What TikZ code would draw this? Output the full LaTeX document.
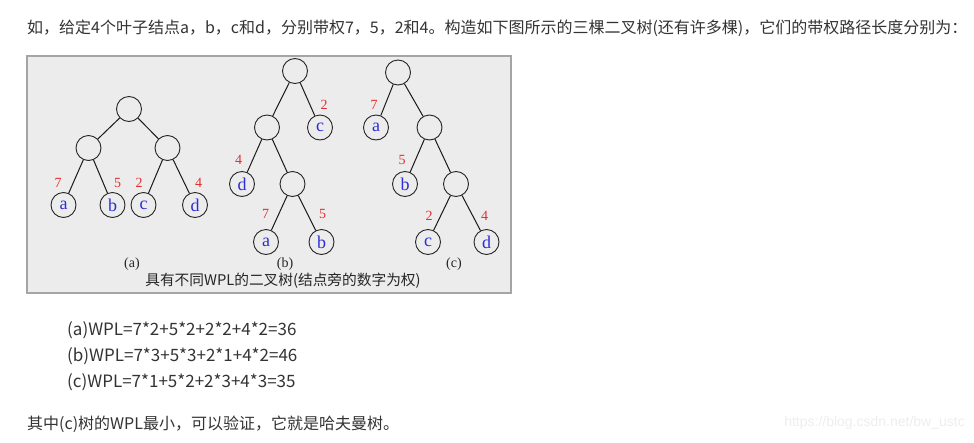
\documentclass[tikz,border=0pt]{standalone}
\usepackage{fontspec}
\setmainfont{Liberation Serif}
\newfontfamily\cjk{Noto Sans CJK SC}
\newfontfamily\wmfont{Liberation Sans}
\definecolor{panelbg}{RGB}{236,236,236}
\definecolor{panelbd}{RGB}{165,165,165}
\definecolor{leafblue}{RGB}{45,45,215}
\definecolor{wred}{RGB}{228,45,45}
\definecolor{bodytxt}{RGB}{51,51,51}
\definecolor{wmgray}{RGB}{238,238,238}
\begin{document}
\begin{tikzpicture}[x=1pt,y=-1pt,
  inner/.style={circle,draw=black!85,minimum size=25pt,inner sep=0pt,line width=0.9pt},
  leaf/.style={inner,text=leafblue,font=\fontsize{18}{18}\selectfont},
  wt/.style={text=wred,font=\fontsize{14}{14}\selectfont,inner sep=0pt},
  edge/.style={line width=1pt,black!90},
  body/.style={text=bodytxt,font=\cjk\fontsize{16}{16}\selectfont,anchor=west,inner sep=0pt},
  wpl/.style={text=bodytxt,font=\cjk\fontsize{17}{17}\selectfont,anchor=west,inner sep=0pt},
  sub/.style={font=\fontsize{14}{14}\selectfont,inner sep=0pt,text=black!85}]
\useasboundingbox (0,0) rectangle (974,442);
\fill[white] (0,0) rectangle (974,442);

\node[body] (intro) at (27,28) {如，给定4个叶子结点a，b，c和d，分别带权7，5，2和4。构造如下图所示的三棵二叉树(还有许多棵)，它们的带权路径长度分别为：};

% panel
\draw[fill=panelbg,draw=panelbd,line width=1.2pt] (27,56) rectangle (511,293);

% tree (a)
\node[inner] (ar) at (129,109) {};
\node[inner] (al) at (88.5,148) {};
\node[inner] (aR) at (167.5,148) {};
\node[leaf] (aa) at (63.5,205) {a};
\node[leaf] (ab) at (112.5,205) {b};
\node[leaf] (ac) at (143.5,205) {c};
\node[leaf] (ad) at (195,205) {d};
\draw[edge] (ar) -- (al); \draw[edge] (ar) -- (aR);
\draw[edge] (al) -- (aa); \draw[edge] (al) -- (ab);
\draw[edge] (aR) -- (ac); \draw[edge] (aR) -- (ad);
\node[wt] (aw7) at (58,183) {7};
\node[wt] (aw5) at (117.5,183) {5};
\node[wt] (aw2) at (139,183) {2};
\node[wt] (aw4) at (198.5,183) {4};
\node[sub] (la) at (132,264) {(a)};

% tree (b)
\node[inner] (br) at (295,71) {};
\node[inner] (bl) at (267,127.5) {};
\node[leaf] (bc) at (320,127.5) {c};
\node[leaf] (bd) at (242,184) {d};
\node[inner] (bm) at (292.5,184) {};
\node[leaf] (ba) at (266,242) {a};
\node[leaf] (bb) at (321.5,242) {b};
\draw[edge] (br) -- (bl); \draw[edge] (br) -- (bc);
\draw[edge] (bl) -- (bd); \draw[edge] (bl) -- (bm);
\draw[edge] (bm) -- (ba); \draw[edge] (bm) -- (bb);
\node[wt] (bw2) at (324,105) {2};
\node[wt] (bw4) at (238.5,160) {4};
\node[wt] (bw7) at (265.5,214) {7};
\node[wt] (bw5) at (322.5,214) {5};
\node[sub] (lb) at (285,264) {(b)};

% tree (c)
\node[inner] (cr) at (398,72.5) {};
\node[leaf] (ca) at (376,127.5) {a};
\node[inner] (cm) at (429.5,127.5) {};
\node[leaf] (cb) at (405,184) {b};
\node[inner] (cn) at (456,184) {};
\node[leaf] (cc) at (428,242) {c};
\node[leaf] (cd) at (486.5,242) {d};
\draw[edge] (cr) -- (ca); \draw[edge] (cr) -- (cm);
\draw[edge] (cm) -- (cb); \draw[edge] (cm) -- (cn);
\draw[edge] (cn) -- (cc); \draw[edge] (cn) -- (cd);
\node[wt] (cw7) at (374,105) {7};
\node[wt] (cw5) at (402,160) {5};
\node[wt] (cw2) at (429,216) {2};
\node[wt] (cw4) at (484.5,216) {4};
\node[sub] (lc) at (454,264) {(c)};

\node[sub,font=\cjk\fontsize{14.7}{14.7}\selectfont] (cap) at (283,281) {具有不同WPL的二叉树(结点旁的数字为权)};

% WPL lines
\node[wpl] (wa) at (67,330) {(a)WPL=7*2+5*2+2*2+4*2=36};
\node[wpl] (wb) at (67,356) {(b)WPL=7*3+5*3+2*1+4*2=46};
\node[wpl] (wc) at (67,382) {(c)WPL=7*1+5*2+2*3+4*3=35};

\node[body] (concl) at (27,424) {其中(c)树的WPL最小，可以验证，它就是哈夫曼树。};

\node[text=wmgray,font=\wmfont\fontsize{14}{14}\selectfont,anchor=east,inner sep=0pt] (wm) at (965,423) {https://blog.csdn.net/bw\_ustc};
\end{tikzpicture}
\end{document}
